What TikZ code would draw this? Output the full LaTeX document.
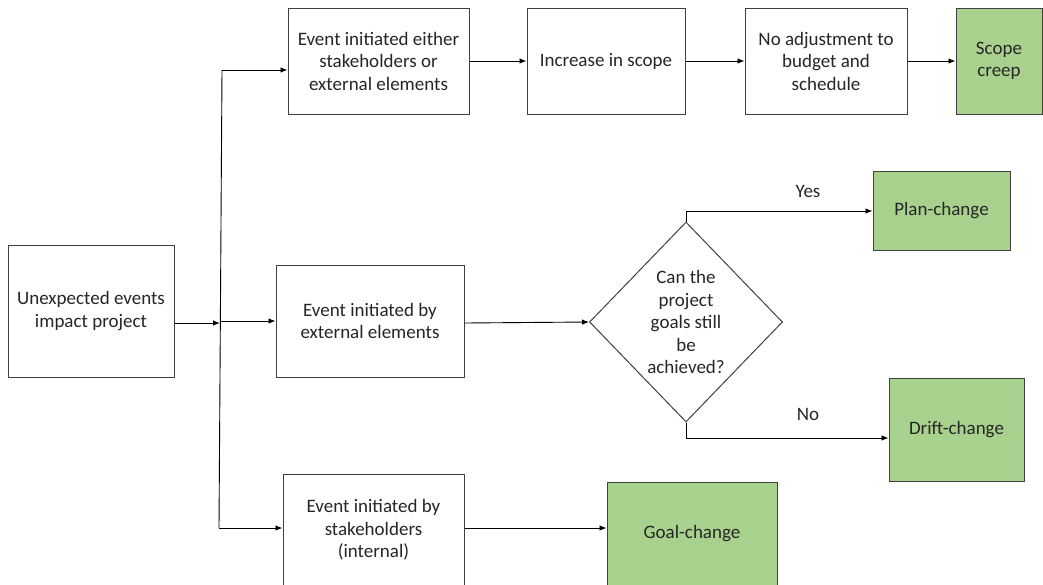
\documentclass[tikz,border=0pt]{standalone}
\usepackage{fontspec}
\setmainfont{Carlito}
\usetikzlibrary{shapes.geometric,arrows.meta}
\definecolor{boxgreen}{HTML}{A9D18E}
\definecolor{lineg}{HTML}{404040}
\begin{document}
\begin{tikzpicture}[x=1pt,y=-1pt,
  every node/.style={font=\fontsize{19}{22.5}\selectfont, text=black!85},
  wbox/.style={draw=lineg, line width=1pt, fill=white, align=center, inner sep=0pt},
  gbox/.style={draw=lineg, line width=1pt, fill=boxgreen, align=center, inner sep=0pt},
  conn/.style={draw=black, line width=0.9pt, -{Latex[length=7pt,width=5.5pt]}},
  plain/.style={draw=black, line width=0.9pt}]
\useasboundingbox (0,0) rectangle (1043,584);
% nodes
\node[wbox, minimum width=166, minimum height=132] (unexp) at (91,311) {Unexpected events\\impact project};
\node[wbox, minimum width=181, minimum height=106] (t1) at (378.5,61) {Event initiated either\\stakeholders or\\external elements};
\node[wbox, minimum width=158, minimum height=106] (t2) at (606,61) {Increase in scope};
\node[wbox, minimum width=162, minimum height=106] (t3) at (826,61) {No adjustment to\\budget and\\schedule};
\node[gbox, minimum width=86, minimum height=106] (scope) at (999,61) {Scope\\creep};
\node[wbox, minimum width=188, minimum height=112] (m1) at (370,321) {Event initiated by\\external elements};
\node[draw=lineg, line width=1pt, diamond, aspect=0.965, inner sep=0pt, minimum width=193, minimum height=200, align=center] (dia) at (686,322) {Can the\\project\\goals still\\be\\achieved?};
\node[gbox, minimum width=137, minimum height=79] (plan) at (941.5,210.5) {Plan-change};
\node[gbox, minimum width=135, minimum height=103] (drift) at (956.5,429.5) {Drift-change};
\node[wbox, minimum width=181, minimum height=112] (b1) at (373.5,530) {Event initiated by\\stakeholders\\(internal)};
\node[gbox, minimum width=170, minimum height=104] (goal) at (692,534) {Goal-change};
% junction coordinates
\coordinate (jin) at (220,323);
\coordinate (jtop) at (222,70);
\coordinate (jmid) at (221,321);
\coordinate (jbot) at (219,528);
\coordinate (yescorner) at (686,211);
\coordinate (nocorner) at (686,438);
% connectors
\draw[conn] (unexp.east |- jin) -- (jin);
\draw[plain] (jtop) -- (jbot);
\draw[conn] (jtop) -- (jtop -| t1.west);
\draw[conn] (jmid) -- (jmid -| m1.west);
\draw[conn] (jbot) -- (jbot -| b1.west);
\draw[conn] (t1) -- (t2);
\draw[conn] (t2) -- (t3);
\draw[conn] (t3) -- (scope);
\draw[conn] (m1.east |- 0,323) -- (dia.west);
\draw[conn] (b1.east |- jbot) -- (goal.west |- jbot);
\draw[conn] (dia.north) -- (yescorner) -- (yescorner -| plan.west);
\draw[conn] (dia.south) -- (nocorner) -- (nocorner -| drift.west);
\node (yes) at (808,191) {Yes};
\node (no) at (808,414) {No};
\end{tikzpicture}
\end{document}
